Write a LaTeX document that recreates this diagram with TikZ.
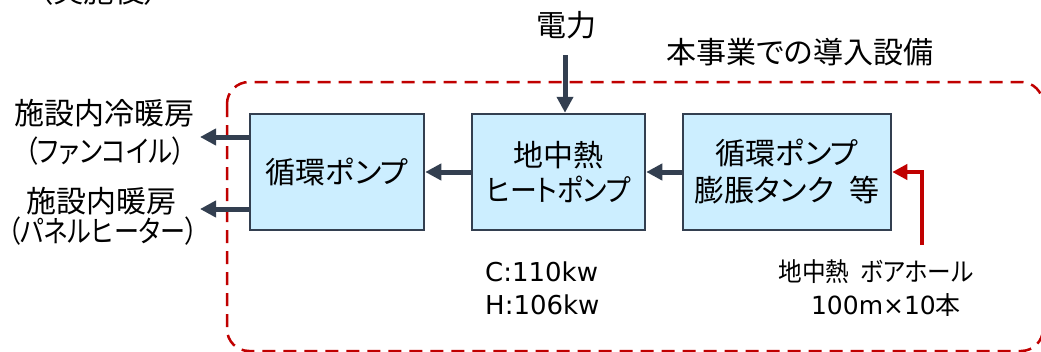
\documentclass[tikz,border=0pt]{standalone}
\usepackage{graphicx}
\usepackage{fontspec}
\setmainfont{Noto Sans CJK JP}[RawFeature=+palt]
\newfontfamily\lat{DejaVu Sans}
\usetikzlibrary{arrows.meta}
\definecolor{boxfill}{RGB}{204,238,255}
\definecolor{dk}{RGB}{51,63,80}
\definecolor{rd}{RGB}{192,0,0}
\newcommand{\fitw}[2]{\resizebox{#1}{\height}{#2}}
\begin{document}
\begin{tikzpicture}[x=1pt,y=-1pt,
  eqbox/.style={draw=dk, line width=2.5pt, fill=boxfill, inner sep=0, minimum height=116pt, align=center, font=\fontsize{30}{36}\selectfont},
  txt/.style={font=\fontsize{30}{36}\selectfont, inner sep=0, align=center},
  small/.style={font=\fontsize{26}{32}\selectfont, inner sep=0, align=center},
  darr/.style={draw=dk, line width=5pt, -{Triangle[length=16pt,width=16pt]}},
  rarr/.style={draw=rd, line width=4pt, -{Triangle[length=15pt,width=15pt]}},
  zone/.style={draw=rd, line width=2.5pt, dash pattern=on 13pt off 8pt, rounded corners=22pt}
]
\useasboundingbox (0,0) rectangle (1041,351);
\begin{scope}
\clip (0,0) rectangle (1041,351);
\draw[zone] (227,82) rectangle (1043,351);
\node[txt] (after) at (99,-9) {\fitw{122pt}{（実施後）}};
\end{scope}

\node[eqbox, minimum width=174pt] (b1) at (337,172) {循環ポンプ};
\node[eqbox, minimum width=173pt] (b2) at (558.5,172) {地中熱\\[-1pt]\fitw{145pt}{ヒートポンプ}};
\node[eqbox, minimum width=208pt] (b3) at (787,172) {循環ポンプ\\[1pt]膨脹タンク\hspace{16pt}等};

\node[txt] (power) at (566,25) {電力};
\node[txt] (zonelabel) at (800,52) {本事業での導入設備};

\node[txt] (out1a) at (104,113) {施設内冷暖房};
\node[txt] (out1b) at (105,151) {\fitw{160pt}{（ファンコイル）}};
\node[txt] (out2a) at (102,201) {施設内暖房};
\node[txt] (out2b) at (103,231) {\fitw{190pt}{（パネルヒーター）}};

\node[small, anchor=west] (cap1) at (485,272) {\lat C:110kw};
\node[small, anchor=west] (cap2) at (485,305) {\lat H:106kw};

\node[small] (bore1) at (876,272) {\fitw{195pt}{地中熱\hspace{12pt}ボアホール}};
\node[small] (bore2) at (886,305) {\fontsize{25}{30}\selectfont{\lat 100m×10}本};

\coordinate (pw) at (565,55);
\coordinate (o1) at (200,137);
\coordinate (o2) at (200,209);
\coordinate (bh) at (922,245);

\draw[darr] (b2.west) -- (b1.east);
\draw[darr] (b3.west) -- (b2.east);
\draw[darr] (pw) -- (pw |- b2.north);
\draw[darr] (o1 -| b1.west) -- (o1);
\draw[darr] (o2 -| b1.west) -- (o2);
\draw[rarr] (bh) |- (b3.east);
\end{tikzpicture}
\end{document}
